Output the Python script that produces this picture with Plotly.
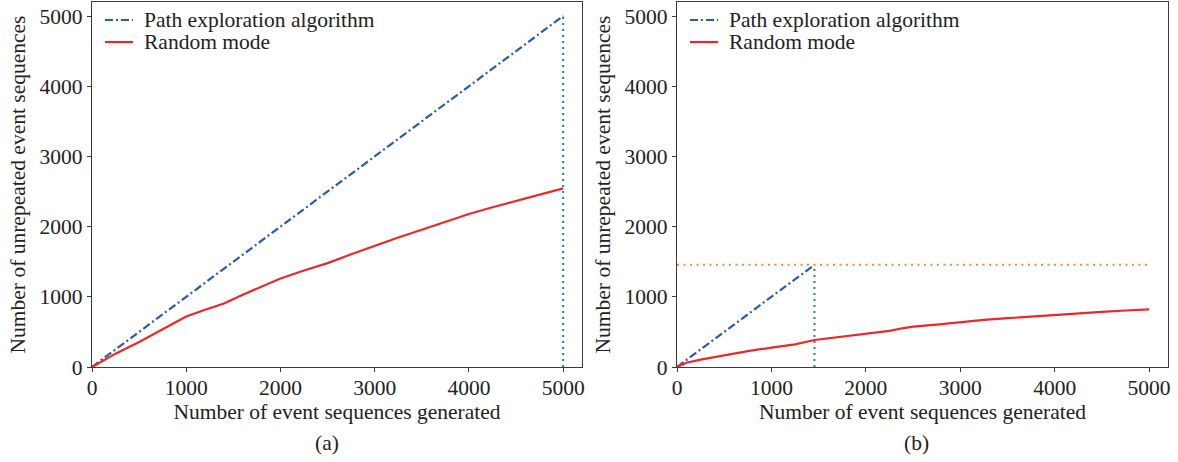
import plotly.graph_objects as go

# ---- data ----
total_a = 5000          # path exploration exhausts at 5000 in (a)
total_b = 1456          # path exploration exhausts at ~1456 in (b)

rand_a_x = [0, 100, 250, 500, 750, 1000, 1200, 1400, 1600, 1800, 2000, 2250, 2500,
            2750, 3000, 3250, 3500, 3750, 4000, 4250, 4500, 4750, 5000]
rand_a_y = [0, 75, 190, 355, 540, 719, 815, 905, 1030, 1150, 1262, 1375, 1480,
            1605, 1730, 1845, 1955, 2070, 2180, 2275, 2365, 2460, 2545]

rand_b_x = [0, 50, 100, 250, 500, 750, 1000, 1250, 1456, 1750, 2000, 2250, 2400,
            2500, 2750, 3000, 3250, 3500, 3750, 4000, 4250, 4500, 4750, 5000]
rand_b_y = [0, 35, 60, 105, 170, 225, 277, 322, 385, 435, 480, 515, 555,
            575, 605, 640, 670, 695, 720, 745, 765, 785, 805, 822]

n_generated = 5000
tick_vals = [0, 1000, 2000, 3000, 4000, 5000]
tick_text = ["0", "1000", "2000", "3000", "4000", "5000"]
legend_names = ["Path exploration algorithm", "Random mode"]

BLUE = "#2c5aa8"
TAB_BLUE = "#2a7bbd"
RED = "#e8282b"
ORANGE = "#f5893a"
FONT = "Liberation Serif"
FS = 21.5
TXT = "#222"
DASHDOT = "8px,3px,2px,3px"

fig = go.Figure()

# (a)
fig.add_trace(go.Scatter(x=[0, total_a], y=[0, total_a], mode="lines",
                         name=legend_names[0],
                         line=dict(color=BLUE, width=2.2, dash=DASHDOT),
                         xaxis="x", yaxis="y", showlegend=False))
fig.add_trace(go.Scatter(x=rand_a_x, y=rand_a_y, mode="lines", name=legend_names[1],
                         line=dict(color=RED, width=2.2),
                         xaxis="x", yaxis="y", showlegend=False))
fig.add_trace(go.Scatter(x=[total_a, total_a], y=[0, total_a], mode="lines",
                         line=dict(color=TAB_BLUE, width=2, dash="2px,4px"),
                         showlegend=False, xaxis="x", yaxis="y"))

# (b)
fig.add_trace(go.Scatter(x=[0, total_b], y=[0, total_b], mode="lines",
                         name=legend_names[0],
                         line=dict(color=BLUE, width=2.2, dash=DASHDOT),
                         xaxis="x2", yaxis="y2", showlegend=False))
fig.add_trace(go.Scatter(x=rand_b_x, y=rand_b_y, mode="lines", name=legend_names[1],
                         line=dict(color=RED, width=2.2),
                         xaxis="x2", yaxis="y2", showlegend=False))
fig.add_trace(go.Scatter(x=[total_b, total_b], y=[0, total_b], mode="lines",
                         line=dict(color=TAB_BLUE, width=2, dash="2px,4px"),
                         showlegend=False, xaxis="x2", yaxis="y2"))
fig.add_trace(go.Scatter(x=[0, n_generated], y=[total_b, total_b], mode="lines",
                         line=dict(color=ORANGE, width=2, dash="2px,4.5px"),
                         showlegend=False, xaxis="x2", yaxis="y2"))

axis_common = dict(
    range=[0, 5200], tickvals=tick_vals, ticktext=tick_text,
    showgrid=False, zeroline=False, showline=True, mirror=True,
    linecolor="#3a3a3a", linewidth=1.3, ticks="outside", ticklen=4,
    tickwidth=1.3, tickcolor="#3a3a3a",
    tickfont=dict(family=FONT, size=FS, color=TXT),
)

d1 = [0, 490 / 1076]
d2 = [585 / 1076, 1]

# manual legends (compact row spacing as in the reference)
shapes = []
annotations = []
leg_rows = [(legend_names[0], BLUE, DASHDOT), (legend_names[1], RED, "solid")]
for xr, yr in (("x domain", "y domain"), ("x2 domain", "y2 domain")):
    for i, (name, col, dsh) in enumerate(leg_rows):
        yy = (367 - (20 + 22 * i)) / 365
        shapes.append(dict(type="line", xref=xr, yref=yr, x0=13 / 490, x1=41 / 490,
                           y0=yy, y1=yy, line=dict(color=col, width=2.2, dash=dsh)))
        annotations.append(dict(text=name, xref=xr, yref=yr, x=50 / 490, y=yy,
                                xanchor="left", yanchor="middle", showarrow=False,
                                font=dict(family=FONT, size=FS, color=TXT)))

annotations += [
    dict(text="(a)", x=(327 - 92) / 1076, y=-(443 - 367) / 365, xref="paper", yref="paper",
         showarrow=False, xanchor="center", yanchor="middle",
         font=dict(family=FONT, size=FS, color=TXT)),
    dict(text="(b)", x=(916 - 92) / 1076, y=-(443 - 367) / 365, xref="paper", yref="paper",
         showarrow=False, xanchor="center", yanchor="middle",
         font=dict(family=FONT, size=FS, color=TXT)),
]

title_font = dict(family=FONT, size=FS, color=TXT)
fig.update_layout(
    width=1178, height=462,
    margin=dict(l=92, r=10, t=2, b=95),
    paper_bgcolor="white", plot_bgcolor="white",
    font=dict(family=FONT, size=FS, color=TXT),
    showlegend=False,
    xaxis=dict(domain=d1, anchor="y", ticklabelstandoff=-3,
               title=dict(text="Number of event sequences generated", standoff=0, font=title_font),
               **axis_common),
    yaxis=dict(domain=[0, 1], anchor="x",
               title=dict(text="Number of unrepeated event sequences", standoff=8, font=title_font),
               **axis_common),
    xaxis2=dict(domain=d2, anchor="y2", ticklabelstandoff=-3,
                title=dict(text="Number of event sequences generated", standoff=0, font=title_font),
                **axis_common),
    yaxis2=dict(domain=[0, 1], anchor="x2",
                title=dict(text="Number of unrepeated event sequences", standoff=8, font=title_font),
                **axis_common),
    shapes=shapes,
    annotations=annotations,
)

fig.write_html("out.html")
